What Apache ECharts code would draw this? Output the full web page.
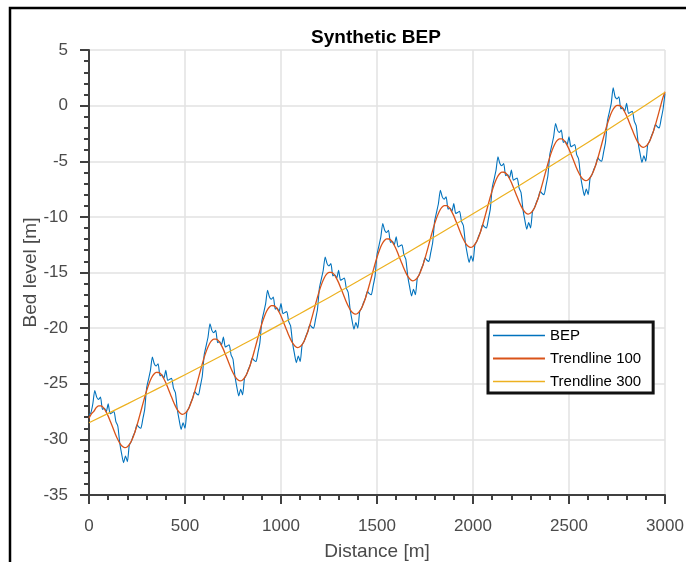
<!DOCTYPE html>
<html>
<head>
<meta charset="utf-8">
<script src="https://cdn.jsdelivr.net/npm/echarts@6/dist/echarts.min.js"></script>
<style>
  html, body { margin: 0; padding: 0; background: #fff; }
  #chart { width: 686px; height: 562px; }
</style>
</head>
<body>
<div id="chart"></div>
<script>
// Sampling steps along the profile (m)
const bepStep = 10;
const trend100Step = 12.5;
const trend300Step = 100;

// Bed elevation profile [m], one value every 10 m from 0 to 3000 m
const bepLevels = [
  -27.8,-27.6,-26.8,-25.6,-26.2,-26.4,-26.2,-27.3,-27.2,-27.5,-26.8,-27.7,-27.6,-27.5,-28.4,-28.8,-30.3,-31.3,-32.1,-31.5,-32.0,-30.5,-30.2,-29.7,-29.3,-28.7,-28.9,-29.0,-28.2,-27.3,
  -25.4,-24.6,-23.8,-22.6,-23.2,-23.4,-23.2,-24.3,-24.2,-24.5,-23.8,-24.7,-24.6,-24.5,-25.4,-25.8,-27.3,-28.3,-29.1,-28.5,-29.0,-27.5,-27.2,-26.7,-26.3,-25.7,-25.9,-26.0,-25.2,-24.3,
  -22.4,-21.6,-20.8,-19.6,-20.2,-20.4,-20.2,-21.3,-21.2,-21.5,-20.8,-21.7,-21.6,-21.5,-22.4,-22.8,-24.3,-25.3,-26.1,-25.5,-26.0,-24.5,-24.2,-23.7,-23.3,-22.7,-22.9,-23.0,-22.2,-21.3,
  -19.4,-18.6,-17.8,-16.6,-17.2,-17.4,-17.2,-18.3,-18.2,-18.5,-17.8,-18.7,-18.6,-18.5,-19.4,-19.8,-21.3,-22.3,-23.1,-22.5,-23.0,-21.5,-21.2,-20.7,-20.3,-19.7,-19.9,-20.0,-19.2,-18.3,
  -16.4,-15.6,-14.8,-13.6,-14.2,-14.4,-14.2,-15.3,-15.2,-15.5,-14.8,-15.7,-15.6,-15.5,-16.4,-16.8,-18.3,-19.3,-20.1,-19.5,-20.0,-18.5,-18.2,-17.7,-17.3,-16.7,-16.9,-17.0,-16.2,-15.3,
  -13.4,-12.6,-11.8,-10.6,-11.2,-11.4,-11.2,-12.3,-12.2,-12.5,-11.8,-12.7,-12.6,-12.5,-13.4,-13.8,-15.3,-16.3,-17.1,-16.5,-17.0,-15.5,-15.2,-14.7,-14.3,-13.7,-13.9,-14.0,-13.2,-12.3,
  -10.4,-9.6,-8.8,-7.6,-8.2,-8.4,-8.2,-9.3,-9.2,-9.5,-8.8,-9.7,-9.6,-9.5,-10.4,-10.8,-12.3,-13.3,-14.1,-13.5,-14.0,-12.5,-12.2,-11.7,-11.3,-10.7,-10.9,-11.0,-10.2,-9.3,
  -7.4,-6.6,-5.8,-4.6,-5.2,-5.4,-5.2,-6.3,-6.2,-6.5,-5.8,-6.7,-6.6,-6.5,-7.4,-7.8,-9.3,-10.3,-11.1,-10.5,-11.0,-9.5,-9.2,-8.7,-8.3,-7.7,-7.9,-8.0,-7.2,-6.3,
  -4.4,-3.6,-2.8,-1.6,-2.2,-2.4,-2.2,-3.3,-3.2,-3.5,-2.8,-3.7,-3.6,-3.5,-4.4,-4.8,-6.3,-7.3,-8.1,-7.5,-8.0,-6.5,-6.2,-5.7,-5.3,-4.7,-4.9,-5.0,-4.2,-3.3,
  -1.4,-0.6,0.2,1.6,0.8,0.6,0.8,-0.3,-0.2,-0.5,0.2,-0.7,-0.6,-0.5,-1.4,-1.8,-3.3,-4.3,-5.1,-4.5,-5.0,-3.5,-3.2,-2.7,-2.3,-1.7,-1.9,-2.0,-1.2,-0.3,
  1.1
];

// 100 m moving trend [m], every 12.5 m
const trend100Levels = [
  -28.1,-27.7,-27.49,-27.15,-26.98,-26.99,-27.15,-27.48,-27.91,-28.44,-28.98,-29.53,-30.01,-30.40,-30.65,-30.75,-30.66,-30.41,-29.99,-29.42,-28.73,-27.96,-27.16,-26.37,
  -25.63,-25.0,-24.49,-24.15,-23.98,-23.99,-24.15,-24.48,-24.91,-25.44,-25.98,-26.53,-27.01,-27.40,-27.65,-27.75,-27.66,-27.41,-26.99,-26.42,-25.73,-24.96,-24.16,-23.37,
  -22.63,-22.0,-21.49,-21.15,-20.98,-20.99,-21.15,-21.48,-21.91,-22.44,-22.98,-23.53,-24.01,-24.40,-24.65,-24.75,-24.66,-24.41,-23.99,-23.42,-22.73,-21.96,-21.16,-20.37,
  -19.63,-19.0,-18.49,-18.15,-17.98,-17.99,-18.15,-18.48,-18.91,-19.44,-19.98,-20.53,-21.01,-21.40,-21.65,-21.75,-21.66,-21.41,-20.99,-20.42,-19.73,-18.96,-18.16,-17.37,
  -16.63,-16.0,-15.49,-15.15,-14.98,-14.99,-15.15,-15.48,-15.91,-16.44,-16.98,-17.53,-18.01,-18.40,-18.65,-18.75,-18.66,-18.41,-17.99,-17.42,-16.73,-15.96,-15.16,-14.37,
  -13.63,-13.0,-12.49,-12.15,-11.98,-11.99,-12.15,-12.48,-12.91,-13.44,-13.98,-14.53,-15.01,-15.40,-15.65,-15.75,-15.66,-15.41,-14.99,-14.42,-13.73,-12.96,-12.16,-11.37,
  -10.63,-10.0,-9.49,-9.15,-8.98,-8.99,-9.15,-9.48,-9.91,-10.44,-10.98,-11.53,-12.01,-12.40,-12.65,-12.75,-12.66,-12.41,-11.99,-11.42,-10.73,-9.96,-9.16,-8.37,
  -7.63,-7.0,-6.49,-6.15,-5.98,-5.99,-6.15,-6.48,-6.91,-7.44,-7.98,-8.53,-9.01,-9.40,-9.65,-9.75,-9.66,-9.41,-8.99,-8.42,-7.73,-6.96,-6.16,-5.37,
  -4.63,-4.0,-3.49,-3.15,-2.98,-2.99,-3.15,-3.48,-3.91,-4.44,-4.98,-5.53,-6.01,-6.40,-6.65,-6.75,-6.66,-6.41,-5.99,-5.42,-4.73,-3.96,-3.16,-2.37,
  -1.63,-1.0,-0.49,-0.15,0.02,0.01,-0.15,-0.48,-0.91,-1.44,-1.98,-2.53,-3.01,-3.40,-3.65,-3.75,-3.66,-3.41,-2.99,-2.42,-1.73,-0.96,-0.16,0.63,
  1.25
];

// 300 m trend [m], every 100 m
const trend300Levels = [
  -28.5,-27.66,-26.81,-25.94,-25.07,-24.19,-23.30,-22.39,-21.48,-20.56,
  -19.62,-18.68,-17.72,-16.76,-15.79,-14.80,-13.81,-12.80,-11.78,-10.76,
  -9.72,-8.68,-7.62,-6.55,-5.48,-4.39,-3.29,-2.19,-1.07,0.06,
  1.2
];

const seriesNames = ['BEP', 'Trendline 100', 'Trendline 300'];
const seriesColors = ['#0072BD', '#D95319', '#EDB120'];
const xTicks = { min: 0, max: 3000, step: 500 };
const yTicks = { min: -35, max: 5, step: 5 };

function toPairs(values, step) {
  return values.map((v, i) => [i * step, v]);
}

const FONT = '"Liberation Sans", Arial, Helvetica, sans-serif';
const AXIS_DARK = '#404040';
const LABEL_GREY = '#4a4a4a';
const GRID_GREY = '#e2e2e2';

// Legend key: a horizontal stroke of the given thickness centred in a 52 x 14 box
function legendStroke(thickness) {
  const a = (7 - thickness / 2).toFixed(2);
  const b = (7 + thickness / 2).toFixed(2);
  return 'path://M0,0L0.01,0L0.01,0.01L0,0.01Z M0,14L0.01,14L0.01,14.01L0,14.01Z ' +
    'M0,' + a + 'L52,' + a + 'L52,' + b + 'L0,' + b + 'Z';
}

function axisCommon(labelMargin) {
  return {
    type: 'value',
    axisLine: { show: true, onZero: false, lineStyle: { color: AXIS_DARK, width: 2 } },
    axisTick: { show: true, inside: false, length: 9, lineStyle: { color: AXIS_DARK, width: 2 } },
    minorTick: { show: true, splitNumber: 5, length: 5, lineStyle: { color: AXIS_DARK, width: 2 } },
    splitLine: { show: true, lineStyle: { color: GRID_GREY, width: 1.5 } },
    minorSplitLine: { show: false },
    axisLabel: {
      fontSize: 17, color: LABEL_GREY, fontFamily: FONT, margin: labelMargin,
      formatter: (v) => String(v)
    },
    nameLocation: 'middle',
    nameMoveOverlap: false,
    nameTextStyle: { fontSize: 19, color: LABEL_GREY, fontFamily: FONT }
  };
}

const chart = echarts.init(document.getElementById('chart'), null, { renderer: 'canvas' });

chart.setOption({
  animation: false,
  backgroundColor: '#fff',
  title: {
    text: 'Synthetic BEP',
    left: 371,
    top: 23,
    textAlign: 'center',
    textStyle: { fontSize: 19, fontWeight: 'bold', color: '#000', fontFamily: FONT }
  },
  grid: { left: 89, right: 21, top: 50, bottom: 67, containLabel: false, outerBoundsMode: 'none' },
  xAxis: Object.assign(axisCommon(23), {
    min: xTicks.min, max: xTicks.max, interval: xTicks.step,
    position: 'bottom',
    name: 'Distance [m]',
    nameGap: 47
  }),
  yAxis: Object.assign(axisCommon(21), {
    min: yTicks.min, max: yTicks.max, interval: yTicks.step,
    position: 'left',
    name: 'Bed level [m]',
    nameGap: 49
  }),
  legend: {
    data: [
      { name: seriesNames[0], icon: legendStroke(1.3) },
      { name: seriesNames[1], icon: legendStroke(2) },
      { name: seriesNames[2], icon: legendStroke(1.3) }
    ],
    orient: 'vertical',
    left: 488,
    top: 322,
    itemWidth: 52,
    itemHeight: 14,
    itemGap: 8,
    padding: [6, 12, 4, 5],
    backgroundColor: '#fff',
    borderColor: '#111',
    borderWidth: 3,
    borderRadius: 0,
    textStyle: { fontSize: 15, color: '#000', fontFamily: FONT }
  },
  graphic: [{
    type: 'rect',
    shape: { x: 10, y: 8, width: 720, height: 620 },
    style: { fill: 'none', stroke: '#000', lineWidth: 2.5 },
    silent: true,
    z: 100
  }],
  series: [
    {
      name: seriesNames[0], type: 'line', data: toPairs(bepLevels, bepStep),
      symbol: 'none', showSymbol: false, smooth: 0.2,
      lineStyle: { color: seriesColors[0], width: 1.1 }, itemStyle: { color: seriesColors[0] }, z: 2
    },
    {
      name: seriesNames[1], type: 'line', data: toPairs(trend100Levels, trend100Step),
      symbol: 'none', showSymbol: false, smooth: 0.3,
      lineStyle: { color: seriesColors[1], width: 1.3 }, itemStyle: { color: seriesColors[1] }, z: 3
    },
    {
      name: seriesNames[2], type: 'line', data: toPairs(trend300Levels, trend300Step),
      symbol: 'none', showSymbol: false, smooth: 0.5,
      lineStyle: { color: seriesColors[2], width: 1.2 }, itemStyle: { color: seriesColors[2] }, z: 4
    }
  ]
});
</script>
</body>
</html>
